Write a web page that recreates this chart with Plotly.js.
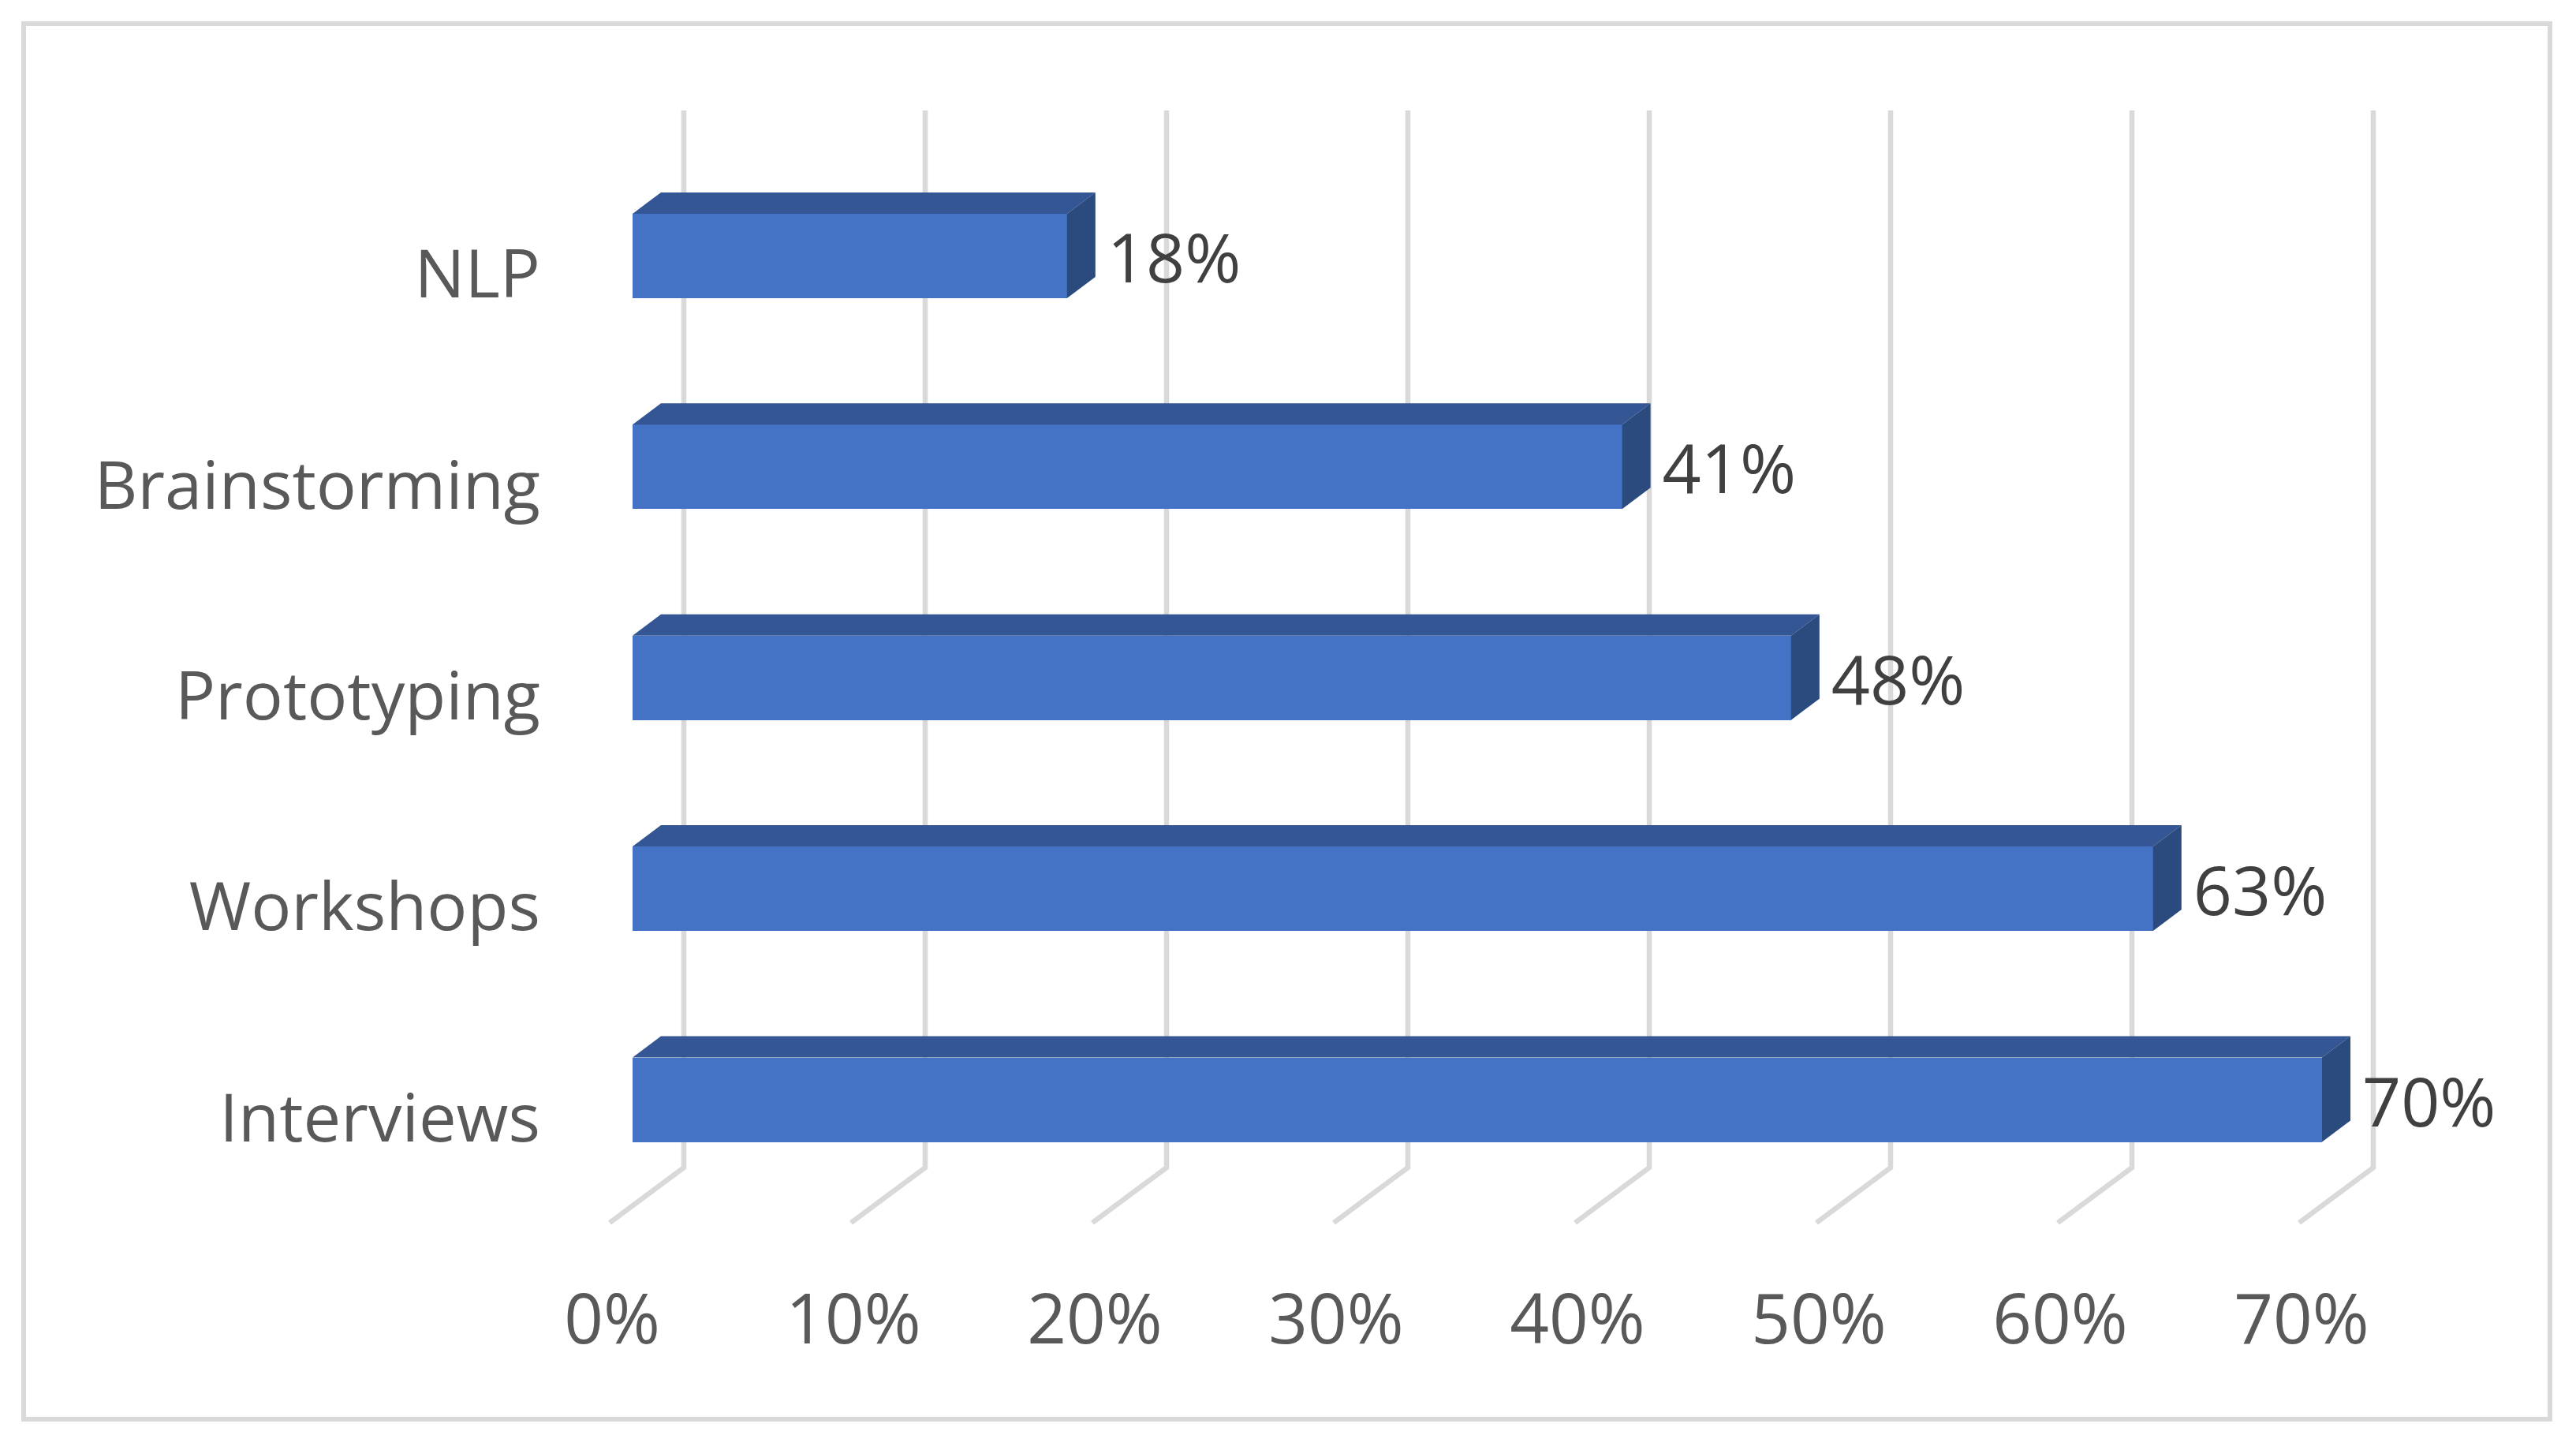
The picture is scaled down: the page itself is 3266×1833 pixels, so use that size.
<!DOCTYPE html>
<html>
<head>
<meta charset="utf-8">
<script src="https://cdn.plot.ly/plotly-3.0.1.min.js"></script>
<style>html,body{margin:0;padding:0;background:#fff}</style>
</head>
<body>
<div id="chart" style="width:3266px;height:1833px"></div>
<script>
const categories = ["Interviews", "Workshops", "Prototyping", "Brainstorming", "NLP"];
const values = [70, 63, 48, 41, 18];
const axisTicks = [0, 10, 20, 30, 40, 50, 60, 70];
const axisLabels = ["0%", "10%", "20%", "30%", "40%", "50%", "60%", "70%"];

// Page geometry: the px scale of the axes, and the fake 3-D offsets in px.
const W = 3266, H = 1833;
const plot = {l: 686, r: 3266, t: 100, b: 1615};
const zeroX = 802, pxPerPct = 30.6;
const zeroY = 1394, pxPerCat = 267.4;
const barH = 107;
const depth = {x: 36, y: 27};
const dx = p => p / pxPerPct;
const dy = p => p / pxPerCat;
const pxToX = p => (p - zeroX) / pxPerPct;
const pxToY = p => (zeroY - p) / pxPerCat;
const idx = categories.map((_, i) => i);
const halfBar = dy(barH / 2);

const GRID = "#d9d9d9";
const FRONT = "#4472c4", TOP = "#345694", SIDE = "#2b4a7d";

// Gridlines: back wall plus receding floor segment
const gridTop = 140, gridBottom = 1480, floorEnd = 1550;
const backOffset = 65, floorOffset = -29;
const shapes = axisTicks.map(v => {
  const xb = v + dx(backOffset), xf = v + dx(floorOffset);
  return {
    type: "path", layer: "below", xref: "x", yref: "y",
    path: `M${xb},${pxToY(gridTop)} L${xb},${pxToY(gridBottom)} L${xf},${pxToY(floorEnd)}`,
    line: {color: GRID, width: 6.5}, fillcolor: "rgba(0,0,0,0)"
  };
});
// Chart-area border
const pw = plot.r - plot.l, ph = plot.b - plot.t;
shapes.push({
  type: "rect", layer: "below", xref: "paper", yref: "paper",
  x0: (30 - plot.l) / pw, x1: (3233 - plot.l) / pw,
  y0: (plot.b - 1799) / ph, y1: (plot.b - 30) / ph,
  line: {color: GRID, width: 6}, fillcolor: "rgba(0,0,0,0)"
});

// Side faces and top faces, derived from the values
const topX = [], topY = [], sideX = [], sideY = [];
values.forEach((v, i) => {
  const yT = i + halfBar, yB = i - halfBar;
  const ox = dx(depth.x), oy = dy(depth.y);
  topX.push(0, ox, v + ox, v, 0, null);
  topY.push(yT, yT + oy, yT + oy, yT, yT, null);
  sideX.push(v, v + ox, v + ox, v, v, null);
  sideY.push(yB, yB + oy, yT + oy, yT, yB, null);
});

const traces = [
  {type: "bar", orientation: "h", x: values, y: idx, width: dy(barH),
   marker: {color: FRONT, line: {width: 0}}, hoverinfo: "x+y", showlegend: false},
  {type: "scatter", mode: "lines", x: topX, y: topY, fill: "toself", fillcolor: TOP,
   line: {width: 0, color: TOP}, hoverinfo: "skip", showlegend: false},
  {type: "scatter", mode: "lines", x: sideX, y: sideY, fill: "toself", fillcolor: SIDE,
   line: {width: 0, color: SIDE}, hoverinfo: "skip", showlegend: false},
  {type: "scatter", mode: "text",
   x: values.map(v => v + dx(depth.x + 15)),
   y: idx.map(i => i - dy(12)),
   text: values.map(v => v + "%"),
   textposition: "middle right",
   textfont: {family: "Open Sans", size: 86, color: "#404040"},
   hoverinfo: "skip", showlegend: false, cliponaxis: false}
];

const layout = {
  width: W, height: H,
  paper_bgcolor: "#fff", plot_bgcolor: "rgba(0,0,0,0)",
  margin: {l: plot.l, r: W - plot.r, t: plot.t, b: H - plot.b, pad: 0},
  showlegend: false,
  bargap: 0,
  shapes: shapes,
  xaxis: {
    range: [pxToX(plot.l), pxToX(plot.r)], showgrid: false, zeroline: false, showline: false,
    tickmode: "array", tickvals: axisTicks.map(v => v + dx(floorOffset + 3)), ticktext: axisLabels,
    ticks: "", tickfont: {family: "Open Sans", size: 87, color: "#595959"}, automargin: false
  },
  yaxis: {
    range: [pxToY(plot.b), pxToY(plot.t)], showgrid: false, zeroline: false, showline: false,
    tickmode: "array", tickvals: idx.map(i => i - dy(23)), ticktext: categories,
    ticks: "", tickfont: {family: "Open Sans", size: 85, color: "#595959"}, automargin: false
  }
};

Plotly.newPlot("chart", traces, layout, {displayModeBar: false, staticPlot: true});
</script>
</body>
</html>
